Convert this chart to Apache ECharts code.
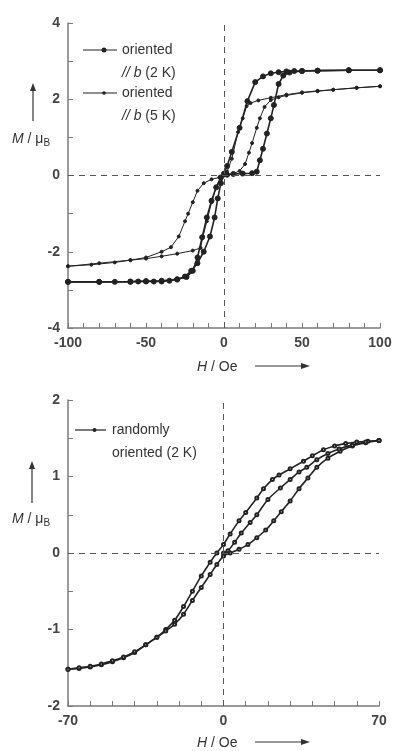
<!DOCTYPE html>
<html>
<head>
<meta charset="utf-8">
<script src="https://cdn.jsdelivr.net/npm/echarts@6/dist/echarts.min.js"></script>
<style>
  html, body { margin: 0; padding: 0; background: #fff; }
  #chart { width: 397px; height: 751px; }
</style>
</head>
<body>
<div id="chart"></div>
<script>
// top panel: oriented // b, 2 K loop
const h2kDown = [100, 80, 60, 50, 45, 40, 35, 30, 25, 20, 15, 10, 5, 2, 0, -2, -4, -6, -9, -13, -17, -21, -25, -30, -35, -40, -45, -50, -55, -60, -70, -80, -100];
const m2kDown = [2.76, 2.76, 2.75, 2.74, 2.74, 2.73, 2.71, 2.68, 2.6, 2.45, 1.95, 1.25, 0.62, 0.25, 0.05, -0.2, -0.6, -1.1, -1.6, -2.0, -2.3, -2.5, -2.65, -2.73, -2.76, -2.78, -2.78, -2.78, -2.78, -2.79, -2.79, -2.79, -2.79];
const h2kUp = [-100, -80, -60, -50, -40, -30, -24, -20, -17, -14, -11, -8, -5, -2, 2, 6, 12, 18, 21, 23, 25, 27.5, 30, 32, 35, 38, 42, 50, 60, 80, 100];
const m2kUp = [-2.79, -2.79, -2.78, -2.77, -2.76, -2.72, -2.66, -2.5, -2.15, -1.62, -1.1, -0.66, -0.31, -0.05, 0.02, 0.04, 0.05, 0.06, 0.1, 0.4, 0.7, 1.1, 1.5, 1.85, 2.4, 2.62, 2.7, 2.74, 2.75, 2.76, 2.76];

// top panel: oriented // b, 5 K loop
const h5kDown = [100, 85, 70, 60, 50, 40, 30, 22, 17, 14.5, 12, 9, 5, 2, 0, -3, -8, -13, -17, -20, -23, -25, -29, -34, -40, -50, -60, -70, -85, -100];
const m5kDown = [2.34, 2.3, 2.25, 2.22, 2.18, 2.12, 2.04, 1.97, 1.9, 1.82, 1.5, 1.14, 0.44, 0.1, 0, -0.05, -0.1, -0.2, -0.4, -0.7, -1.0, -1.2, -1.6, -1.88, -2.0, -2.15, -2.22, -2.28, -2.34, -2.38];
const h5kUp = [-100, -80, -60, -50, -40, -30, -20, -15, -13.5, -11, -8, -5, -2, 2, 6, 10, 13.5, 16, 18, 21, 23, 26, 30, 35, 40, 50, 60, 70, 85, 100];
const m5kUp = [-2.38, -2.3, -2.22, -2.18, -2.12, -2.05, -1.97, -1.9, -1.6, -1.2, -0.7, -0.3, -0.05, 0.02, 0.05, 0.12, 0.3, 0.6, 0.85, 1.25, 1.5, 1.8, 1.98, 2.05, 2.1, 2.17, 2.21, 2.25, 2.3, 2.34];

// bottom panel: randomly oriented, 2 K
const hRandDown = [70, 65, 60, 55, 50, 45, 40, 36, 30, 25, 22, 18, 15, 10, 7, 3, 0, -3, -6, -10, -14, -18, -22, -26, -30, -35, -40, -45, -50, -55, -60, -65, -70];
const mRandDown = [1.47, 1.46, 1.45, 1.43, 1.4, 1.35, 1.27, 1.2, 1.1, 1.02, 0.96, 0.84, 0.72, 0.53, 0.42, 0.25, 0.11, 0.0, -0.12, -0.3, -0.5, -0.7, -0.88, -1.0, -1.1, -1.2, -1.3, -1.37, -1.42, -1.46, -1.49, -1.51, -1.52];
const hRandUp = [-70, -65, -60, -55, -50, -45, -40, -35, -30, -26, -22, -18, -14, -10, -6, -3, 0, 3, 7, 11, 15, 19, 22.6, 26, 30, 34, 38, 42, 47, 52.5, 58, 64, 70];
const mRandUp = [-1.52, -1.5, -1.48, -1.45, -1.41, -1.36, -1.29, -1.2, -1.1, -1.02, -0.93, -0.8, -0.62, -0.45, -0.28, -0.15, -0.04, 0.0, 0.05, 0.11, 0.2, 0.3, 0.42, 0.54, 0.68, 0.84, 0.98, 1.12, 1.24, 1.33, 1.4, 1.44, 1.47];
const hRandVirgin = [0, 2, 5, 8, 12, 15, 20, 25.6, 30, 34, 37.5, 42, 47, 52, 58, 64, 70];
const mRandVirgin = [0, 0.03, 0.14, 0.26, 0.4, 0.5, 0.7, 0.85, 0.96, 1.06, 1.12, 1.22, 1.3, 1.36, 1.41, 1.45, 1.47];

const zip = (h, m) => h.map((v, i) => [v, m[i]]);

const ink = '#222';
const axisGray = '#7a7a7a';
const font = 'Liberation Sans, Arial, sans-serif';

const zeroLines = {
  silent: true,
  symbol: 'none',
  label: { show: false },
  lineStyle: { type: [6, 5], color: '#555', width: 1 },
  data: [{ xAxis: 0 }, { yAxis: 0 }]
};

const tickLabel = show => ({
  color: '#444', fontSize: 14, fontWeight: 'bold', fontFamily: font, margin: 8,
  formatter: v => show(v) ? String(v) : ''
});

const xAxisBase = (idx, min, max, show) => ({
  type: 'value', gridIndex: idx, min, max, interval: 10,
  splitLine: { show: false },
  axisLine: { onZero: false, lineStyle: { color: axisGray, width: 1.5 } },
  axisTick: { inside: true, length: 5, lineStyle: { color: axisGray } },
  axisLabel: tickLabel(show)
});

const yAxisBase = (idx, min, max, interval, show) => ({
  type: 'value', gridIndex: idx, min, max, interval,
  splitLine: { show: false },
  axisLine: { show: true, onZero: false, lineStyle: { color: axisGray, width: 1.5 } },
  axisTick: { inside: true, length: 5, lineStyle: { color: axisGray } },
  axisLabel: tickLabel(show)
});

const lineSeries = (idx, data, width, symbol, size) => ({
  type: 'line', xAxisIndex: idx, yAxisIndex: idx, data,
  symbol, symbolSize: size, showSymbol: true,
  lineStyle: { color: ink, width },
  itemStyle: { color: ink, borderColor: ink, borderWidth: 1 },
  animation: false
});

const titleRich = {
  i: { fontStyle: 'italic', fontSize: 14, fontFamily: font, color: '#333' },
  n: { fontSize: 14, fontFamily: font, color: '#333' },
  s: { fontSize: 10, fontFamily: font, color: '#333', verticalAlign: 'bottom', padding: [8, 0, 0, 0] }
};

const arrowUp = (x, y1, y2) => [
  { type: 'line', shape: { x1: x, y1: y1, x2: x, y2: y2 + 6 }, style: { stroke: '#333', lineWidth: 1.2 } },
  { type: 'polygon', shape: { points: [[x, y2], [x - 3, y2 + 8], [x + 3, y2 + 8]] }, style: { fill: '#333' } }
];
const arrowRight = (x1, x2, y) => [
  { type: 'line', shape: { x1: x1, y1: y, x2: x2 - 6, y2: y }, style: { stroke: '#333', lineWidth: 1.2 } },
  { type: 'polygon', shape: { points: [[x2, y], [x2 - 9, y - 3], [x2 - 9, y + 3]] }, style: { fill: '#333' } }
];
const legendItem = (x1, x2, y, markerSize) => [
  { type: 'line', shape: { x1: x1, y1: y, x2: x2, y2: y }, style: { stroke: ink, lineWidth: 1.2 } },
  { type: 'circle', shape: { cx: (x1 + x2) / 2 + 4, cy: y, r: markerSize }, style: { fill: ink } }
];
const textEl = (x, y, rich, text) => ({
  type: 'text', x, y,
  style: { text, rich, fill: '#333', font: '14px ' + font, textVerticalAlign: 'middle' }
});

const legendRich = {
  i: { fontStyle: 'italic', fontSize: 14, fontFamily: font, color: '#2a2a2a' },
  n: { fontSize: 14, fontFamily: font, color: '#2a2a2a' }
};

const chart = echarts.init(document.getElementById('chart'), null, { renderer: 'canvas' });
chart.setOption({
  backgroundColor: '#fff',
  animation: false,
  grid: [
    { left: 68, top: 23, width: 312, height: 305 },
    { left: 68, top: 400, width: 311, height: 306 }
  ],
  xAxis: [
    xAxisBase(0, -100, 100, v => v % 50 === 0),
    xAxisBase(1, -70, 70, v => v === -70 || v === 0 || v === 70)
  ],
  yAxis: [
    yAxisBase(0, -4, 4, 1, v => v % 2 === 0),
    yAxisBase(1, -2, 2, 0.5, v => Number.isInteger(v))
  ],
  series: [
    Object.assign(lineSeries(0, zip(h2kDown, m2kDown), 1.6, 'circle', 5), { markLine: zeroLines }),
    lineSeries(0, zip(h2kUp, m2kUp), 1.6, 'circle', 5),
    lineSeries(0, zip(h5kDown, m5kDown), 1, 'circle', 3),
    lineSeries(0, zip(h5kUp, m5kUp), 1, 'circle', 3),
    Object.assign(lineSeries(1, zip(hRandDown, mRandDown), 1.6, 'emptyCircle', 3), { markLine: zeroLines, smooth: 0.3 }),
    Object.assign(lineSeries(1, zip(hRandUp, mRandUp), 1.6, 'emptyCircle', 3), { smooth: 0.3 }),
    Object.assign(lineSeries(1, zip(hRandVirgin, mRandVirgin), 1.6, 'emptyCircle', 3), { smooth: 0.3 })
  ],
  graphic: [
    // top legend
    ...legendItem(83, 117, 50, 2.5),
    textEl(122, 50, legendRich, '{n|oriented}'),
    textEl(122, 73, legendRich, '{i|// b} {n|(2 K)}'),
    ...legendItem(83, 117, 93, 1.8),
    textEl(122, 93, legendRich, '{n|oriented}'),
    textEl(122, 116, legendRich, '{i|// b} {n|(5 K)}'),
    // top axis titles
    ...arrowUp(33, 121, 83),
    textEl(12, 139, titleRich, '{i|M} {n|/ μ}{s|B}'),
    textEl(197, 367, titleRich, '{i|H} {n|/ Oe}'),
    ...arrowRight(255, 310, 366),
    // bottom legend
    ...legendItem(75, 106, 430, 2),
    textEl(112, 430, legendRich, '{n|randomly}'),
    textEl(112, 453, legendRich, '{n|oriented (2 K)}'),
    // bottom axis titles
    ...arrowUp(32, 503, 461),
    textEl(12, 519, titleRich, '{i|M} {n|/ μ}{s|B}'),
    textEl(197, 743, titleRich, '{i|H} {n|/ Oe}'),
    ...arrowRight(255, 310, 742)
  ]
});
</script>
</body>
</html>
